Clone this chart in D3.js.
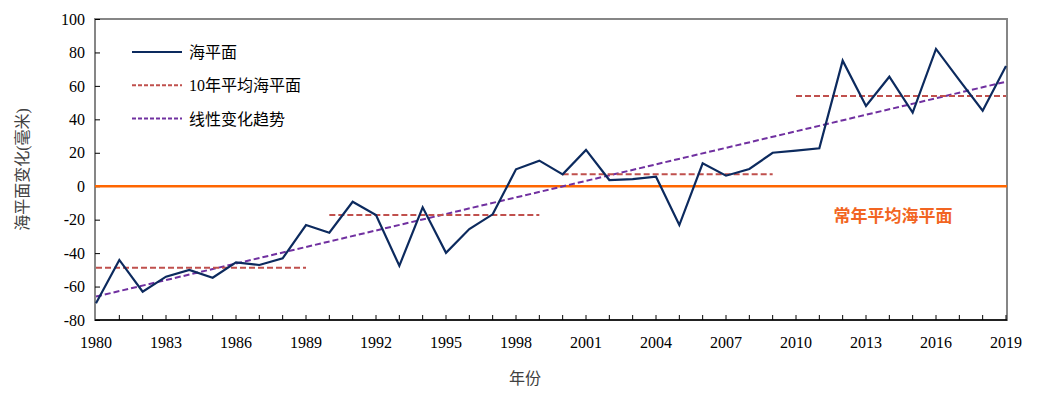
<!DOCTYPE html>
<html>
<head>
<meta charset="utf-8">
<script src="https://cdn.jsdelivr.net/npm/d3@7"></script>
<style>
    body { margin: 0; background: #fff; }
    text { font-family: "Liberation Serif", "Noto Sans CJK SC", serif; }
</style>
</head>
<body>
<script>
// annual sea level anomaly (mm), 1980-2019
let years = d3.range(1980, 2020);
let seaLevel = [-70.0, -44.1, -63.1, -54.1, -50.1, -54.7, -45.5, -47.1, -43.1, -23.2,
    -27.8, -9.3, -17.2, -47.6, -12.6, -39.8, -25.6, -16.8, 10.1, 15.3,
    7.1, 21.7, 3.7, 4.3, 5.7, -23.2, 13.7, 6.3, 10.3, 20.0,
    21.3, 22.7, 75.1, 48.0, 65.5, 44.0, 82.1, 63.5, 45.2, 71.9];
// decade averages
let decadeStart = [1980, 1990, 2000, 2010];
let decadeEnd = [1989, 1999, 2009, 2019];
let decadeMean = [-48.7, -17.2, 7.1, 54.0];
// linear trend end points
let trendYears = [1980, 2019];
let trendValues = [-66.0, 62.5];

let yTicks = [-80, -60, -40, -20, 0, 20, 40, 60, 80, 100];
let xTicks = d3.range(1980, 2020, 3);
let legendNames = ['海平面', '10年平均海平面', '线性变化趋势'];

let width = 1051, height = 397;
let margin = { top: 19, right: 44, bottom: 77, left: 95 };

let svg = d3.select('body').append('svg')
    .attr('width', width)
    .attr('height', height);

let xScale = d3.scaleLinear().domain([1980, 2019]).range([96, 1006]);
let yScale = d3.scaleLinear().domain([-80, 100]).range([height - margin.bottom, margin.top]);

// plot frame
svg.append('rect')
    .attr('x', margin.left)
    .attr('y', margin.top)
    .attr('width', width - margin.left - margin.right)
    .attr('height', height - margin.top - margin.bottom)
    .attr('fill', 'none')
    .attr('stroke', '#868686')
    .attr('stroke-width', 2);

// Y axis: ticks pointing inward
let yAxis = d3.axisRight(yScale).tickValues(yTicks).tickSize(5).tickFormat(d3.format('d'));
let yAxisGroup = svg.append('g')
    .attr('transform', `translate(${margin.left}, 0)`)
    .call(yAxis);
yAxisGroup.select('.domain').remove();
yAxisGroup.selectAll('.tick line').attr('stroke', '#000');
yAxisGroup.selectAll('.tick text')
    .attr('x', -10)
    .attr('text-anchor', 'end')
    .attr('font-size', 16)
    .attr('fill', '#000')
    .text(d => d < 0 ? '-' + Math.abs(d) : d);

// X axis: ticks every year, labels every 3 years
let xAxisGroup = svg.append('g')
    .attr('transform', `translate(0, ${yScale(-80)})`);
xAxisGroup.append('line')
    .attr('x1', margin.left).attr('x2', width - margin.right)
    .attr('stroke', '#000').attr('stroke-width', 1.5);
xAxisGroup.selectAll('.yt')
    .data(years.slice(1))
    .enter().append('line')
    .attr('x1', d => xScale(d)).attr('x2', d => xScale(d))
    .attr('y1', 0).attr('y2', -5)
    .attr('stroke', '#000');
xAxisGroup.selectAll('.xl')
    .data(xTicks)
    .enter().append('text')
    .attr('x', d => xScale(d))
    .attr('y', 28)
    .attr('text-anchor', 'middle')
    .attr('font-size', 16)
    .text(d => d);

// zero line
svg.append('line')
    .attr('x1', margin.left).attr('x2', width - margin.right)
    .attr('y1', yScale(0)).attr('y2', yScale(0))
    .attr('stroke', '#FF6600')
    .attr('stroke-width', 2.5);

// trend
svg.append('line')
    .attr('x1', xScale(trendYears[0])).attr('x2', xScale(trendYears[1]))
    .attr('y1', yScale(trendValues[0])).attr('y2', yScale(trendValues[1]))
    .attr('stroke', '#7030A0')
    .attr('stroke-width', 2)
    .attr('stroke-dasharray', '6,3');

// decade means
svg.selectAll('.decade')
    .data(decadeMean)
    .enter().append('line')
    .attr('x1', (d, i) => xScale(decadeStart[i]))
    .attr('x2', (d, i) => xScale(decadeEnd[i]))
    .attr('y1', d => yScale(d)).attr('y2', d => yScale(d))
    .attr('stroke', '#C0504D')
    .attr('stroke-width', 2)
    .attr('stroke-dasharray', '6,3');

// sea level line
let line = d3.line()
    .x((d, i) => xScale(years[i]))
    .y(d => yScale(d));
svg.append('path')
    .datum(seaLevel)
    .attr('d', line)
    .attr('fill', 'none')
    .attr('stroke', '#0C2A5E')
    .attr('stroke-width', 2.2)
    .attr('stroke-linejoin', 'miter');

// legend
let legendStyles = [
    { color: '#0C2A5E', dash: null },
    { color: '#C0504D', dash: '4,2' },
    { color: '#7030A0', dash: '4,2' }
];
let legend = svg.append('g');
legendNames.forEach((name, i) => {
    let y = 52 + i * 33.3;
    legend.append('line')
        .attr('x1', 132).attr('x2', 182)
        .attr('y1', y).attr('y2', y)
        .attr('stroke', legendStyles[i].color)
        .attr('stroke-width', 2)
        .attr('stroke-dasharray', legendStyles[i].dash);
    legend.append('text')
        .attr('x', 189)
        .attr('y', y + 6)
        .attr('font-size', 16)
        .text(name);
});

// annotation
svg.append('text')
    .attr('x', 893)
    .attr('y', 222)
    .attr('text-anchor', 'middle')
    .attr('font-size', 17)
    .attr('font-weight', 'bold')
    .attr('fill', '#F26522')
    .text('常年平均海平面');

// axis titles
svg.append('text')
    .attr('transform', `translate(28, ${yScale(10)}) rotate(-90)`)
    .attr('text-anchor', 'middle')
    .attr('font-size', 16)
    .attr('fill', '#404040')
    .text('海平面变化(毫米)');

svg.append('text')
    .attr('x', 525)
    .attr('y', 384)
    .attr('text-anchor', 'middle')
    .attr('font-size', 16)
    .attr('fill', '#404040')
    .text('年份');
</script>
</body>
</html>
